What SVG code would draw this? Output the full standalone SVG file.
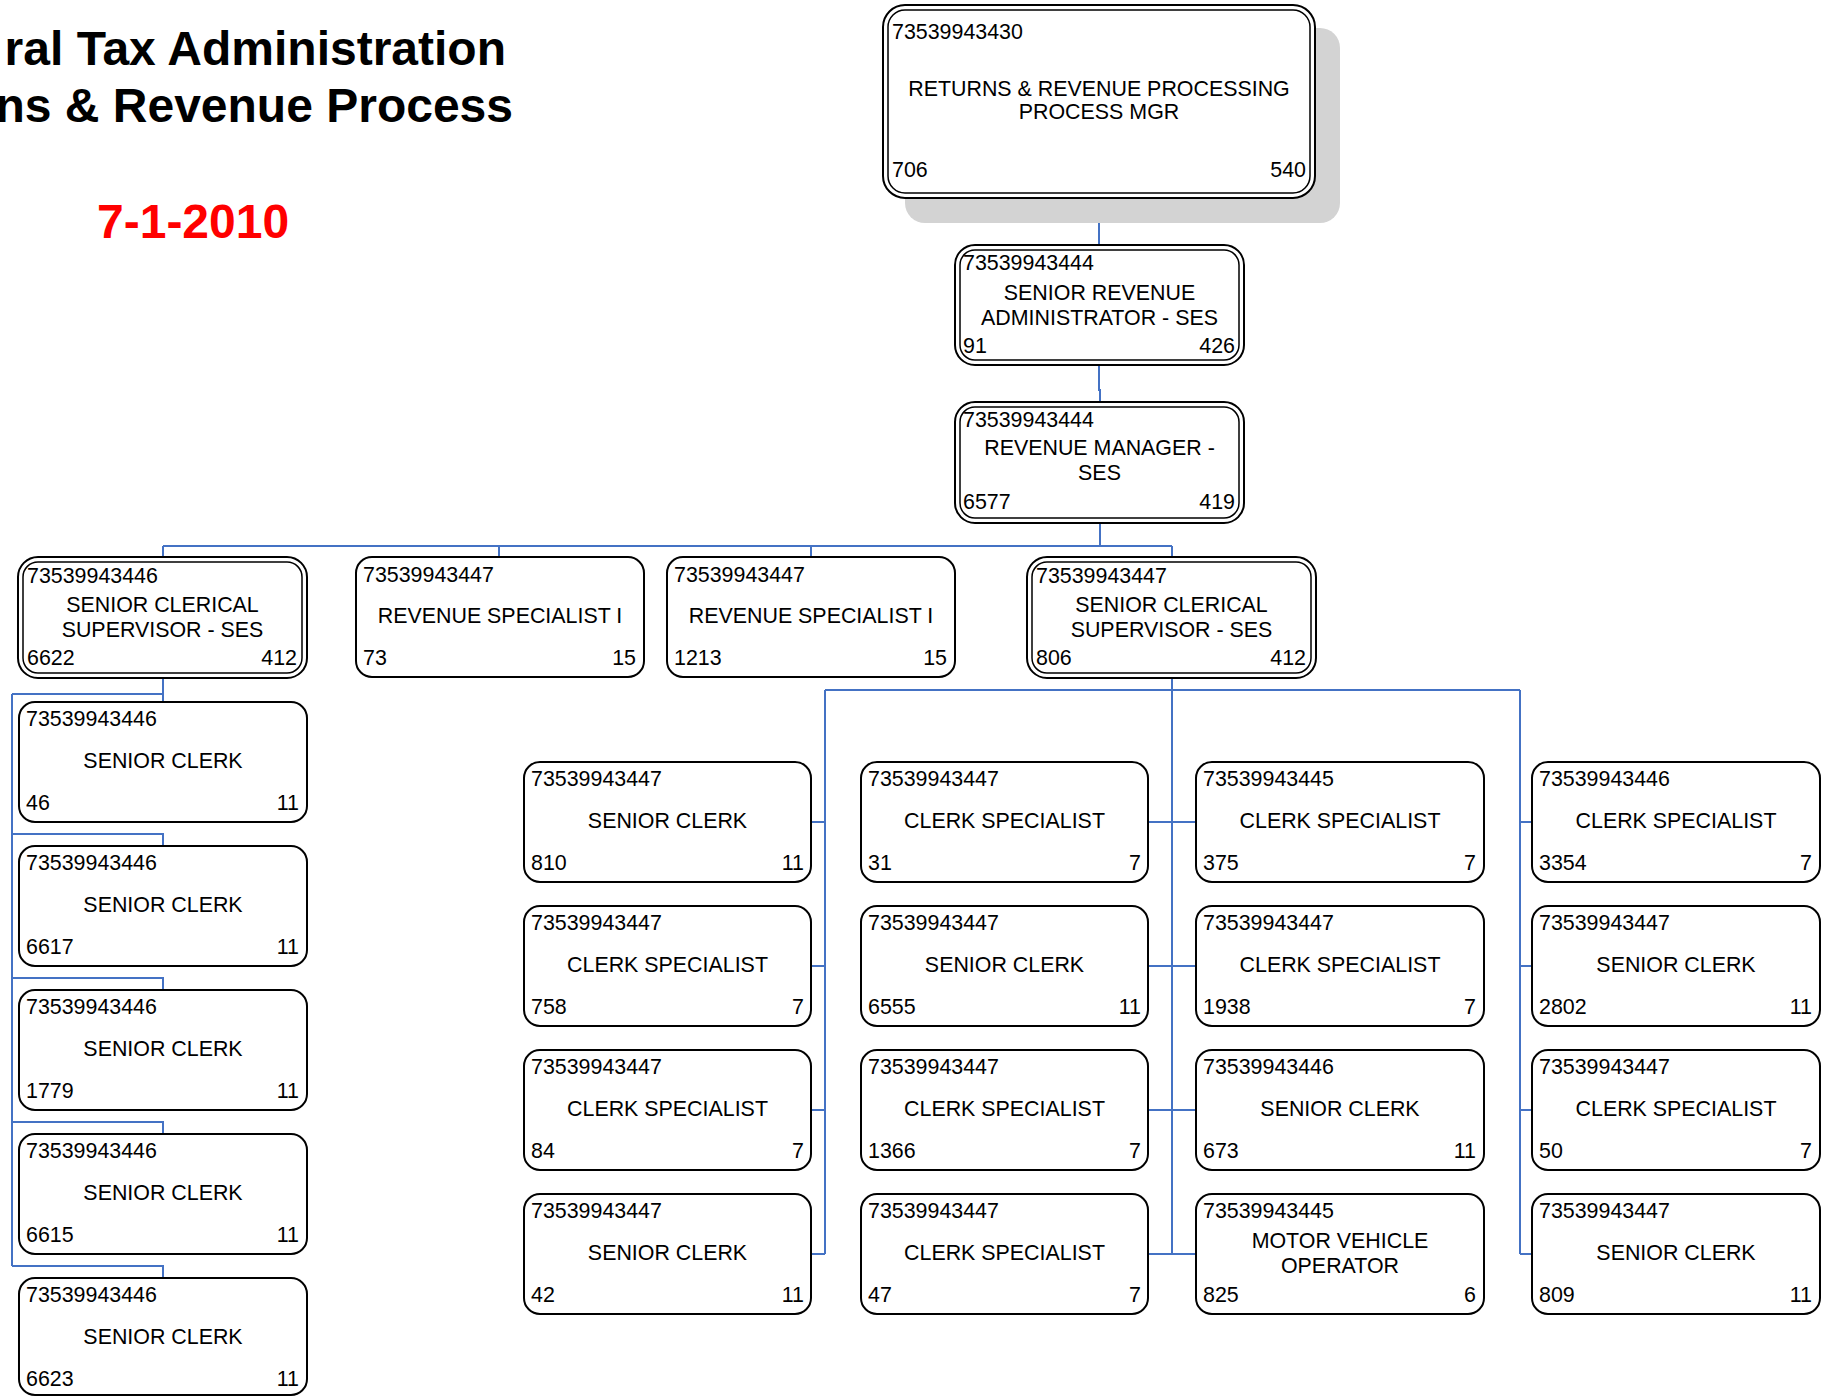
<svg xmlns="http://www.w3.org/2000/svg" width="1828" height="1397" viewBox="0 0 1828 1397">
  <style>
    .box { fill: #ffffff; stroke: #000000; stroke-width: 2; }
    .inner { fill: none; stroke: #000000; stroke-width: 1.5; }
    .shadow { fill: #d3d3d3; }
    .t { font-family: "Liberation Sans", Arial, sans-serif; font-size: 21.4px; fill: #000000; }
    .c { text-anchor: middle; }
    .r { text-anchor: end; }
    .conn { fill: none; stroke: #4472c4; stroke-width: 2; }
    .title { font-family: "Liberation Sans", Arial, sans-serif; font-size: 48px; font-weight: bold; fill: #000000; text-anchor: end; }
    .date { font-family: "Liberation Sans", Arial, sans-serif; font-size: 48px; font-weight: bold; fill: #ff0000; }
  </style>

  <rect x="0" y="0" width="1828" height="1397" fill="#ffffff"/>

  <!-- heading -->
  <g id="heading">
    <text class="title" x="506" y="65">ral Tax Administration</text>
    <text class="title" x="513" y="122">ns &amp; Revenue Process</text>
    <text class="date" x="97" y="238">7-1-2010</text>
  </g>

  <!-- connectors -->
  <g id="connectors" class="conn">
    <path d="M1099,198 V245"/>
    <path d="M1099,365 V390 H1100 V402"/>
    <path d="M1100,523 V546"/>
    <path d="M163,546 H1172"/>
    <path d="M163,546 V557 M499,546 V557 M811,546 V557 M1172,546 V557"/>
    <!-- left supervisor branch -->
    <path d="M163,678 V702"/>
    <path d="M12,694 H163"/>
    <path d="M12,694 V1266"/>
    <path d="M12,834 H163 V846"/>
    <path d="M12,978 H163 V990"/>
    <path d="M12,1122 H163 V1134"/>
    <path d="M12,1266 H163 V1278"/>
    <!-- right supervisor branch -->
    <path d="M1172,678 V1254"/>
    <path d="M825,690 H1520"/>
    <path d="M825,690 V1254"/>
    <path d="M1520,690 V1254"/>
    <path d="M811,822 H825 M811,966 H825 M811,1110 H825 M811,1254 H825"/>
    <path d="M1148,822 H1196 M1148,966 H1196 M1148,1110 H1196 M1148,1254 H1196"/>
    <path d="M1520,822 H1532 M1520,966 H1532 M1520,1110 H1532 M1520,1254 H1532"/>
  </g>

  <!-- top manager -->
  <g id="node-process-mgr">
    <rect class="shadow" x="905" y="28" width="435" height="195" rx="20"/>
    <rect class="box" x="883" y="5" width="432" height="193" rx="22"/>
    <rect class="inner" x="888" y="10" width="422" height="183" rx="17"/>
    <text class="t" x="892" y="39">73539943430</text>
    <text class="t c" x="1099" y="96">RETURNS &amp; REVENUE PROCESSING</text>
    <text class="t c" x="1099" y="119">PROCESS MGR</text>
    <text class="t" x="892" y="177">706</text>
    <text class="t r" x="1306" y="177">540</text>
  </g>

  <g id="node-senior-revenue-admin">
    <rect class="box" x="955" y="245" width="289" height="120" rx="20"/>
    <rect class="inner" x="960" y="250" width="279" height="110" rx="15"/>
    <text class="t" x="963" y="270">73539943444</text>
    <text class="t c" x="1099.5" y="300">SENIOR REVENUE</text>
    <text class="t c" x="1099.5" y="325">ADMINISTRATOR - SES</text>
    <text class="t" x="963" y="353">91</text>
    <text class="t r" x="1235" y="353">426</text>
  </g>

  <g id="node-revenue-manager">
    <rect class="box" x="955" y="402" width="289" height="121" rx="20"/>
    <rect class="inner" x="960" y="407" width="279" height="111" rx="15"/>
    <text class="t" x="963" y="427">73539943444</text>
    <text class="t c" x="1099.5" y="455">REVENUE MANAGER -</text>
    <text class="t c" x="1099.5" y="480">SES</text>
    <text class="t" x="963" y="509">6577</text>
    <text class="t r" x="1235" y="509">419</text>
  </g>

  <!-- third level -->
  <g id="node-clerical-sup-6622">
    <rect class="box" x="18" y="557" width="289" height="121" rx="20"/>
    <rect class="inner" x="23" y="562" width="279" height="111" rx="15"/>
    <text class="t" x="27" y="583">73539943446</text>
    <text class="t c" x="162.5" y="612">SENIOR CLERICAL</text>
    <text class="t c" x="162.5" y="637">SUPERVISOR - SES</text>
    <text class="t" x="27" y="665">6622</text>
    <text class="t r" x="297" y="665">412</text>
  </g>

  <g id="node-rev-spec-73">
    <rect class="box" x="356" y="557" width="288" height="120" rx="16"/>
    <text class="t" x="363" y="582">73539943447</text>
    <text class="t c" x="500" y="623">REVENUE SPECIALIST I</text>
    <text class="t" x="363" y="665">73</text>
    <text class="t r" x="636" y="665">15</text>
  </g>

  <g id="node-rev-spec-1213">
    <rect class="box" x="667" y="557" width="288" height="120" rx="16"/>
    <text class="t" x="674" y="582">73539943447</text>
    <text class="t c" x="811" y="623">REVENUE SPECIALIST I</text>
    <text class="t" x="674" y="665">1213</text>
    <text class="t r" x="947" y="665">15</text>
  </g>

  <g id="node-clerical-sup-806">
    <rect class="box" x="1027" y="557" width="289" height="121" rx="20"/>
    <rect class="inner" x="1032" y="562" width="279" height="111" rx="15"/>
    <text class="t" x="1036" y="583">73539943447</text>
    <text class="t c" x="1171.5" y="612">SENIOR CLERICAL</text>
    <text class="t c" x="1171.5" y="637">SUPERVISOR - SES</text>
    <text class="t" x="1036" y="665">806</text>
    <text class="t r" x="1306" y="665">412</text>
  </g>

  <!-- left column staff -->
  <g id="node-46">
    <rect class="box" x="19" y="702" width="288" height="120" rx="16"/>
    <text class="t" x="26" y="726">73539943446</text>
    <text class="t c" x="163" y="768">SENIOR CLERK</text>
    <text class="t" x="26" y="810">46</text>
    <text class="t r" x="299" y="810">11</text>
  </g>
  <g id="node-6617">
    <rect class="box" x="19" y="846" width="288" height="120" rx="16"/>
    <text class="t" x="26" y="870">73539943446</text>
    <text class="t c" x="163" y="912">SENIOR CLERK</text>
    <text class="t" x="26" y="954">6617</text>
    <text class="t r" x="299" y="954">11</text>
  </g>
  <g id="node-1779">
    <rect class="box" x="19" y="990" width="288" height="120" rx="16"/>
    <text class="t" x="26" y="1014">73539943446</text>
    <text class="t c" x="163" y="1056">SENIOR CLERK</text>
    <text class="t" x="26" y="1098">1779</text>
    <text class="t r" x="299" y="1098">11</text>
  </g>
  <g id="node-6615">
    <rect class="box" x="19" y="1134" width="288" height="120" rx="16"/>
    <text class="t" x="26" y="1158">73539943446</text>
    <text class="t c" x="163" y="1200">SENIOR CLERK</text>
    <text class="t" x="26" y="1242">6615</text>
    <text class="t r" x="299" y="1242">11</text>
  </g>
  <g id="node-6623">
    <rect class="box" x="19" y="1278" width="288" height="117" rx="16"/>
    <text class="t" x="26" y="1302">73539943446</text>
    <text class="t c" x="163" y="1344">SENIOR CLERK</text>
    <text class="t" x="26" y="1386">6623</text>
    <text class="t r" x="299" y="1386">11</text>
  </g>

  <!-- column A -->
  <g id="node-810">
    <rect class="box" x="524" y="762" width="287" height="120" rx="16"/>
    <text class="t" x="531" y="786">73539943447</text>
    <text class="t c" x="667.5" y="828">SENIOR CLERK</text>
    <text class="t" x="531" y="870">810</text>
    <text class="t r" x="804" y="870">11</text>
  </g>
  <g id="node-758">
    <rect class="box" x="524" y="906" width="287" height="120" rx="16"/>
    <text class="t" x="531" y="930">73539943447</text>
    <text class="t c" x="667.5" y="972">CLERK SPECIALIST</text>
    <text class="t" x="531" y="1014">758</text>
    <text class="t r" x="804" y="1014">7</text>
  </g>
  <g id="node-84">
    <rect class="box" x="524" y="1050" width="287" height="120" rx="16"/>
    <text class="t" x="531" y="1074">73539943447</text>
    <text class="t c" x="667.5" y="1116">CLERK SPECIALIST</text>
    <text class="t" x="531" y="1158">84</text>
    <text class="t r" x="804" y="1158">7</text>
  </g>
  <g id="node-42">
    <rect class="box" x="524" y="1194" width="287" height="120" rx="16"/>
    <text class="t" x="531" y="1218">73539943447</text>
    <text class="t c" x="667.5" y="1260">SENIOR CLERK</text>
    <text class="t" x="531" y="1302">42</text>
    <text class="t r" x="804" y="1302">11</text>
  </g>

  <!-- column B -->
  <g id="node-31">
    <rect class="box" x="861" y="762" width="287" height="120" rx="16"/>
    <text class="t" x="868" y="786">73539943447</text>
    <text class="t c" x="1004.5" y="828">CLERK SPECIALIST</text>
    <text class="t" x="868" y="870">31</text>
    <text class="t r" x="1141" y="870">7</text>
  </g>
  <g id="node-6555">
    <rect class="box" x="861" y="906" width="287" height="120" rx="16"/>
    <text class="t" x="868" y="930">73539943447</text>
    <text class="t c" x="1004.5" y="972">SENIOR CLERK</text>
    <text class="t" x="868" y="1014">6555</text>
    <text class="t r" x="1141" y="1014">11</text>
  </g>
  <g id="node-1366">
    <rect class="box" x="861" y="1050" width="287" height="120" rx="16"/>
    <text class="t" x="868" y="1074">73539943447</text>
    <text class="t c" x="1004.5" y="1116">CLERK SPECIALIST</text>
    <text class="t" x="868" y="1158">1366</text>
    <text class="t r" x="1141" y="1158">7</text>
  </g>
  <g id="node-47">
    <rect class="box" x="861" y="1194" width="287" height="120" rx="16"/>
    <text class="t" x="868" y="1218">73539943447</text>
    <text class="t c" x="1004.5" y="1260">CLERK SPECIALIST</text>
    <text class="t" x="868" y="1302">47</text>
    <text class="t r" x="1141" y="1302">7</text>
  </g>

  <!-- column C -->
  <g id="node-375">
    <rect class="box" x="1196" y="762" width="288" height="120" rx="16"/>
    <text class="t" x="1203" y="786">73539943445</text>
    <text class="t c" x="1340" y="828">CLERK SPECIALIST</text>
    <text class="t" x="1203" y="870">375</text>
    <text class="t r" x="1476" y="870">7</text>
  </g>
  <g id="node-1938">
    <rect class="box" x="1196" y="906" width="288" height="120" rx="16"/>
    <text class="t" x="1203" y="930">73539943447</text>
    <text class="t c" x="1340" y="972">CLERK SPECIALIST</text>
    <text class="t" x="1203" y="1014">1938</text>
    <text class="t r" x="1476" y="1014">7</text>
  </g>
  <g id="node-673">
    <rect class="box" x="1196" y="1050" width="288" height="120" rx="16"/>
    <text class="t" x="1203" y="1074">73539943446</text>
    <text class="t c" x="1340" y="1116">SENIOR CLERK</text>
    <text class="t" x="1203" y="1158">673</text>
    <text class="t r" x="1476" y="1158">11</text>
  </g>
  <g id="node-825">
    <rect class="box" x="1196" y="1194" width="288" height="120" rx="16"/>
    <text class="t" x="1203" y="1218">73539943445</text>
    <text class="t c" x="1340" y="1248">MOTOR VEHICLE</text>
    <text class="t c" x="1340" y="1273">OPERATOR</text>
    <text class="t" x="1203" y="1302">825</text>
    <text class="t r" x="1476" y="1302">6</text>
  </g>

  <!-- column D -->
  <g id="node-3354">
    <rect class="box" x="1532" y="762" width="288" height="120" rx="16"/>
    <text class="t" x="1539" y="786">73539943446</text>
    <text class="t c" x="1676" y="828">CLERK SPECIALIST</text>
    <text class="t" x="1539" y="870">3354</text>
    <text class="t r" x="1812" y="870">7</text>
  </g>
  <g id="node-2802">
    <rect class="box" x="1532" y="906" width="288" height="120" rx="16"/>
    <text class="t" x="1539" y="930">73539943447</text>
    <text class="t c" x="1676" y="972">SENIOR CLERK</text>
    <text class="t" x="1539" y="1014">2802</text>
    <text class="t r" x="1812" y="1014">11</text>
  </g>
  <g id="node-50">
    <rect class="box" x="1532" y="1050" width="288" height="120" rx="16"/>
    <text class="t" x="1539" y="1074">73539943447</text>
    <text class="t c" x="1676" y="1116">CLERK SPECIALIST</text>
    <text class="t" x="1539" y="1158">50</text>
    <text class="t r" x="1812" y="1158">7</text>
  </g>
  <g id="node-809">
    <rect class="box" x="1532" y="1194" width="288" height="120" rx="16"/>
    <text class="t" x="1539" y="1218">73539943447</text>
    <text class="t c" x="1676" y="1260">SENIOR CLERK</text>
    <text class="t" x="1539" y="1302">809</text>
    <text class="t r" x="1812" y="1302">11</text>
  </g>
</svg>
